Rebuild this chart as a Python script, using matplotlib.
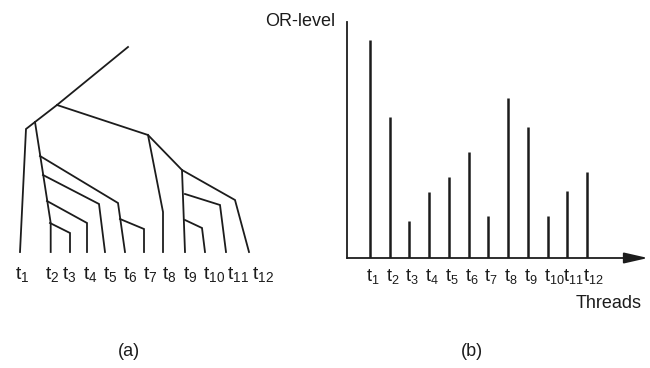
import matplotlib
matplotlib.use('Agg')
import matplotlib.pyplot as plt
from matplotlib.transforms import offset_copy

plt.rcParams['font.family'] = ['Liberation Sans', 'DejaVu Sans']
plt.rcParams['mathtext.fontset'] = 'custom'
plt.rcParams['mathtext.rm'] = 'Liberation Sans'

# thread names, shared by both panels
threads = ['1', '2', '3', '4', '5', '6', '7', '8', '9', '10', '11', '12']

# (b) OR-level of each thread (arbitrary units)
or_level = [218, 141, 37, 66, 81, 106, 42, 160, 131, 42, 67, 86]

# (a) the thread tree, each branch as a polyline (picture coordinates)
tree_branches = [
    [(128, 47), (57, 105), (35, 122), (26, 129), (20, 252)],     # t1
    [(35, 122), (50.7, 223), (50.7, 252)],                       # t2
    [(50, 223), (70, 233), (70, 252)],                           # t3
    [(47, 201), (87, 223), (87, 252)],                           # t4
    [(43, 175), (99, 204), (105, 252)],                          # t5
    [(40, 156), (118, 203), (125, 252)],                         # t6
    [(120, 219), (144, 229), (144, 252)],                        # t7
    [(57, 105), (148, 135), (163, 212), (163, 252)],             # t8
    [(182, 170), (185, 252)],                                    # t9
    [(185, 220), (202, 228), (205, 252)],                        # t10
    [(185, 194), (220, 205), (226, 252)],                        # t11
    [(148, 135), (182, 170), (235, 200), (249, 252)],            # t12
]
tree_label_x = [15, 45, 62, 83, 103, 123, 143, 162, 183, 203, 227, 252]

W, H = 650, 368
ink = '#1c1c1c'
fs = 13
tfs = 14

fig = plt.figure(figsize=(W / 100, H / 100), dpi=100)

# full-figure axes in pixel units for the tree and captions
ax0 = fig.add_axes([0, 0, 1, 1])
ax0.set_xlim(0, W)
ax0.set_ylim(H, 0)
ax0.axis('off')

for br in tree_branches:
    xs = [p[0] for p in br]
    ys = [p[1] for p in br]
    ax0.plot(xs, ys, color=ink, lw=1.3, solid_joinstyle='miter')

for name, lx in zip(threads, tree_label_x):
    ax0.text(lx, 266, r'$\mathrm{t}_{%s}$' % name, fontsize=tfs, color=ink,
             ha='left', va='top')

ax0.text(129, 352, '(a)', fontsize=fs, color=ink, ha='center', va='center')
ax0.text(472, 352, '(b)', fontsize=fs, color=ink, ha='center', va='center')

# (b) OR-level bars
x0, base, top = 347, 258, 22
ax1 = fig.add_axes([x0 / W, (H - base) / H, (W - x0) / W, (base - top) / H])
ax1.patch.set_alpha(0)
step = 19.73
left = 1 - (370 - x0) / step
right = 12 + (W - 587) / step
ax1.set_xlim(left, right)
ax1.set_ylim(0, base - top)
ax1.axis('off')

pos = list(range(1, len(or_level) + 1))
ax1.vlines(pos, 0, or_level, color=ink, lw=1.8)
ax1.plot([left, left], [0, base - top], color=ink, lw=1.3, clip_on=False)
ax1.annotate('', xy=(left + (648 - x0) / step, 0), xytext=(left, 0),
             arrowprops=dict(arrowstyle='-|>,head_length=1.45,head_width=0.33',
                             mutation_scale=10, color=ink, lw=1.3,
                             shrinkA=0, shrinkB=0),
             annotation_clip=False)

lab_tr = offset_copy(ax1.transData, fig=fig, x=-4, y=-9, units='dots')
for name, p in zip(threads, pos):
    ax1.text(p, 0, r'$\mathrm{t}_{%s}$' % name, fontsize=fs, color=ink,
             ha='left', va='top', transform=lab_tr)

ax0.text(300, 21, 'OR-level', fontsize=fs, color=ink, ha='center', va='center')
ax0.text(609, 303, 'Threads', fontsize=fs, color=ink, ha='center', va='center')

fig.savefig('out.png', dpi=100)
